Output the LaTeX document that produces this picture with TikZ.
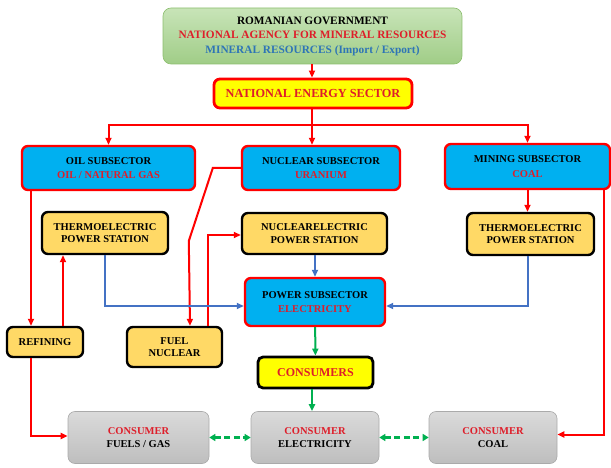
\documentclass[tikz,border=0pt]{standalone}
\usepackage{fontspec}
\setmainfont{Liberation Serif}
\usepackage{tikz}
\usetikzlibrary{arrows.meta,positioning,calc}
\definecolor{subBlue}{RGB}{0,176,240}
\definecolor{lineRed}{RGB}{255,0,0}
\definecolor{textRed}{RGB}{222,30,42}
\definecolor{boxYellow}{RGB}{255,255,0}
\definecolor{stationGold}{RGB}{255,217,102}
\definecolor{flowBlue}{RGB}{68,114,196}
\definecolor{flowGreen}{RGB}{0,176,80}
\definecolor{resBlue}{RGB}{46,117,182}
\definecolor{govTop}{RGB}{200,228,184}
\definecolor{govBot}{RGB}{160,205,135}
\definecolor{govEdge}{RGB}{140,190,110}
\definecolor{greyTop}{RGB}{218,218,218}
\definecolor{greyBot}{RGB}{190,190,190}
\definecolor{greyEdge}{RGB}{170,170,170}

\begin{document}
\begin{tikzpicture}[x=1pt, y=-1pt,
  every node/.style={font=\bfseries\fontsize{10.5}{12.5}\selectfont, align=center, inner sep=0pt},
  subbox/.style={draw=lineRed, line width=2.4pt, fill=subBlue, rounded corners=6pt},
  stationbox/.style={draw=black, line width=2.4pt, fill=stationGold, rounded corners=6pt},
  consbox/.style={draw=greyEdge, line width=0.6pt, top color=greyTop, bottom color=greyBot, rounded corners=7pt},
  redarrow/.style={draw=lineRed, line width=2pt, -{Triangle[length=7pt,width=6pt]}},
  bluearrow/.style={draw=flowBlue, line width=2pt, -{Triangle[length=7pt,width=6pt]}},
  greenarrow/.style={draw=flowGreen, line width=2pt, -{Triangle[length=7pt,width=6pt]}},
  dasharrow/.style={draw=flowGreen, line width=2.6pt, dash pattern=on 6pt off 3.5pt,
    {Triangle[length=6pt,width=7pt]}-{Triangle[length=6pt,width=7pt]}}]
  \useasboundingbox (0,0) rectangle (611,468);
  % Top
  \node[draw=govEdge, line width=0.6pt, top color=govTop, bottom color=govBot, rounded corners=8pt,
    minimum width=299pt, minimum height=56pt, font=\bfseries\fontsize{11.3}{14.5}\selectfont] (gov) at (312.5,36)
    {ROMANIAN GOVERNMENT\\ \textcolor{textRed}{NATIONAL AGENCY FOR MINERAL RESOURCES}\\
     \textcolor{resBlue}{MINERAL RESOURCES (Import / Export)}};
  \node[draw=lineRed, line width=2.8pt, fill=boxYellow, rounded corners=6pt, minimum width=198pt,
    minimum height=29pt, text=textRed, font=\bfseries\fontsize{12.3}{14}\selectfont] (nes) at (313,93.5)
    {NATIONAL ENERGY SECTOR};
  % Subsectors
  \node[subbox, minimum width=173pt, minimum height=44pt] (oil) at (108.5,168)
    {OIL SUBSECTOR\\[2pt] \textcolor{textRed}{OIL / NATURAL GAS}};
  \node[subbox, minimum width=158pt, minimum height=44pt] (nuc) at (321,168)
    {NUCLEAR SUBSECTOR\\[2pt] \textcolor{textRed}{URANIUM}};
  \node[subbox, minimum width=165pt, minimum height=45pt] (mining) at (527.5,166.5)
    {MINING SUBSECTOR\\[2pt] \textcolor{textRed}{COAL}};
  % Power stations
  \node[stationbox, minimum width=126pt, minimum height=42pt] (thermoL) at (105,233)
    {THERMOELECTRIC\\ POWER STATION};
  \node[stationbox, minimum width=145pt, minimum height=41pt] (nucel) at (314.5,233.5)
    {NUCLEARELECTRIC\\ POWER STATION};
  \node[stationbox, minimum width=127pt, minimum height=42pt] (thermoR) at (530.5,234)
    {THERMOELECTRIC\\ POWER STATION};
  \node[subbox, minimum width=140pt, minimum height=48pt] (power) at (315,302)
    {POWER SUBSECTOR\\[2pt] \textcolor{textRed}{ELECTRICITY}};
  \node[stationbox, minimum width=76pt, minimum height=30pt] (refining) at (45,342) {REFINING};
  \node[stationbox, minimum width=95pt, minimum height=40pt] (fuelnuc) at (174.5,347) {FUEL\\ NUCLEAR};
  \node[draw=black, line width=2.8pt, fill=boxYellow, rounded corners=5pt, minimum width=115pt,
    minimum height=31pt, text=textRed, font=\bfseries\fontsize{12}{14}\selectfont] (consumers) at (315.5,372.5)
    {CONSUMERS};
  % Consumers
  \node[consbox, minimum width=141pt, minimum height=52pt] (cfuel) at (138.5,437.5)
    {\textcolor{textRed}{CONSUMER}\\[1pt] FUELS / GAS};
  \node[consbox, minimum width=128pt, minimum height=52pt] (celec) at (315,437.5)
    {\textcolor{textRed}{CONSUMER}\\[1pt] ELECTRICITY};
  \node[consbox, minimum width=128pt, minimum height=52pt] (ccoal) at (493,437.5)
    {\textcolor{textRed}{CONSUMER}\\[1pt] COAL};
  % Arrows
  \coordinate (split) at (312,125);
  \draw[redarrow] (gov.south -| split) -- (nes.north -| split);
  \draw[draw=lineRed, line width=2pt] (nes.south -| split) -- (split);
  \draw[redarrow] (split) -| (oil.north);
  \draw[redarrow] (split) -- (split |- nuc.north);
  \draw[redarrow] (split) -| (mining.north);
  \draw[redarrow] ([xshift=-14pt]refining.north |- oil.south) -- ([xshift=-14pt]refining.north);
  \draw[redarrow] ([xshift=18pt]refining.north) -- ([xshift=18pt]refining.north |- thermoL.south);
  \draw[redarrow] ([xshift=-14pt]refining.south) |- ([yshift=1.5pt]cfuel.west);
  \draw[redarrow] (nuc.west) -- ++(-28,0) -- ++(-24,73) -- ([xshift=15.5pt]fuelnuc.north);
  \draw[redarrow] ([xshift=33.5pt]fuelnuc.north) |- ([yshift=-1.5pt]nucel.west);
  \draw[redarrow] (mining.south) -- (mining.south |- thermoR.north);
  \draw[redarrow] ([xshift=76pt]mining.south) |- ([yshift=3pt]ccoal.east);
  \draw[bluearrow] (thermoL.south) |- ([yshift=-4pt]power.west);
  \draw[bluearrow] ([xshift=-2.5pt]thermoR.south) |- ([yshift=-4pt]power.east);
  \draw[bluearrow] (nucel.south -| power.north) -- (power.north);
  \draw[greenarrow] (power) -- (consumers);
  \draw[greenarrow] (consumers.south -| split) -- (celec.north -| split);
  \draw[dasharrow] (cfuel) -- (celec);
  \draw[dasharrow] (celec) -- (ccoal);
\end{tikzpicture}
\end{document}
